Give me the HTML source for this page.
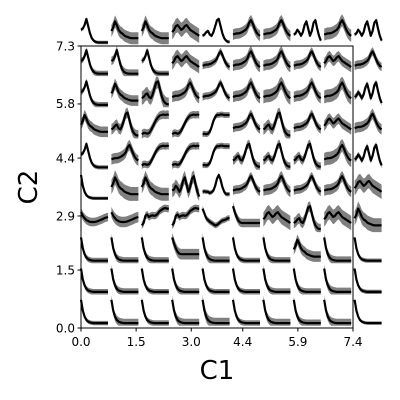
<!DOCTYPE html>
<html><head><meta charset="utf-8"><style>
html,body{margin:0;padding:0;background:#fff;}
svg{display:block;font-family:"DejaVu Sans","Liberation Sans",sans-serif;}
</style></head><body>
<svg id="chart" width="400" height="400" viewBox="0 0 400 400">
<g id="cells"></g>
<g id="axes"></g>
</svg>
<script>
// Axis tick labels
const xTickLabels = ["0.0","1.5","3.0","4.4","5.9","7.4"];
const yTickLabels = ["0.0","1.5","2.9","4.4","5.8","7.3"];
const xTickValues = [0.0,1.5,3.0,4.4,5.9,7.4];
const yTickValues = [0.0,1.5,2.9,4.4,5.8,7.3];
// Prototype curve shapes (normalized values, 16 samples)
const shapeA = [1.0,0.55,0.3,0.16,0.09,0.06,0.04,0.03,0.03,0.03,0.03,0.03,0.03,0.03,0.03,0.03];
const shapeB = [0.55,0.6,0.75,1.0,0.7,0.4,0.2,0.1,0.05,0.03,0.02,0.02,0.02,0.02,0.02,0.02];
const shapeC = [0.5,0.65,0.9,0.75,0.55,0.45,0.4,0.32,0.28,0.25,0.22,0.2,0.2,0.2,0.2,0.2];
const shapeD = [0.45,0.55,0.7,0.75,0.65,0.55,0.6,0.7,0.75,0.65,0.55,0.5,0.45,0.4,0.35,0.3];
const shapeE = [0.3,0.35,0.45,0.5,0.35,0.3,0.45,0.7,0.95,1.0,0.7,0.4,0.2,0.1,0.05,0.05];
const shapeF = [0.35,0.38,0.4,0.4,0.42,0.45,0.5,0.55,0.65,0.85,0.95,0.8,0.6,0.45,0.35,0.3];
const shapeM = [0.35,0.4,0.55,0.45,0.3,0.45,0.75,0.9,0.6,0.3,0.5,0.85,0.95,0.6,0.3,0.1];
const shapeG = [0.1,0.15,0.15,0.12,0.15,0.25,0.4,0.55,0.7,0.8,0.88,0.9,0.92,0.9,0.92,0.9];
const shapeS = [0.1,0.12,0.1,0.12,0.2,0.4,0.65,0.82,0.9,0.9,0.92,0.92,0.9,0.9,0.9,0.9];
const shapeP = [1.0,0.75,0.55,0.4,0.32,0.3,0.3,0.3,0.3,0.3,0.3,0.3,0.3,0.3,0.3,0.3];
const shapeU = [0.75,0.6,0.5,0.42,0.38,0.35,0.34,0.34,0.35,0.37,0.4,0.43,0.46,0.5,0.53,0.55];
const shapeL = [0.3,0.32,0.3,0.3,0.25,0.28,0.35,0.55,0.85,1.0,0.8,0.5,0.3,0.2,0.2,0.2];
const shapeR = [0.2,0.3,0.6,0.65,0.55,0.6,0.62,0.6,0.62,0.7,0.8,0.85,0.9,0.92,0.9,0.9];
const shapeV = [0.9,0.7,0.5,0.42,0.35,0.3,0.25,0.2,0.22,0.28,0.35,0.4,0.42,0.45,0.5,0.5];
const shapes = {A:shapeA,B:shapeB,C:shapeC,D:shapeD,E:shapeE,F:shapeF,M:shapeM,G:shapeG,S:shapeS,P:shapeP,U:shapeU,L:shapeL,R:shapeR,V:shapeV};
// Shape index per cell, top row first
const cellShapes = [
 ["B","C","C","D","E","F","F","M","F","M"],
 ["B","B","B","D","F","F","F","F","D","F"],
 ["B","C","E","F","F","F","F","F","F","M"],
 ["C","E","G","G","S","F","E","F","D","F"],
 ["B","F","G","G","S","E","E","E","F","M"],
 ["A","C","C","M","L","F","F","F","F","D"],
 ["U","U","R","R","V","P","D","E","D","C"],
 ["A","A","A","P","A","A","A","C","A","A"],
 ["A","A","A","A","A","A","A","A","A","A"],
 ["A","A","A","A","A","A","A","A","A","A"]
];
// Band half-width per cell (normalized)
const cellBands = [
 [0.07,0.25,0.25,0.3,0.07,0.22,0.22,0.07,0.25,0.07],
 [0.12,0.18,0.12,0.27,0.15,0.22,0.22,0.18,0.22,0.18],
 [0.12,0.22,0.28,0.22,0.15,0.22,0.27,0.22,0.27,0.12],
 [0.22,0.22,0.18,0.15,0.12,0.18,0.22,0.18,0.22,0.22],
 [0.09,0.22,0.15,0.15,0.12,0.18,0.18,0.18,0.27,0.12],
 [0.07,0.3,0.27,0.27,0.09,0.18,0.22,0.18,0.22,0.3],
 [0.18,0.22,0.15,0.15,0.12,0.18,0.3,0.22,0.3,0.3],
 [0.12,0.15,0.15,0.22,0.18,0.12,0.15,0.22,0.18,0.09],
 [0.12,0.15,0.12,0.15,0.12,0.12,0.15,0.15,0.18,0.09],
 [0.09,0.18,0.12,0.18,0.22,0.12,0.18,0.15,0.18,0.07]
];
const NS="http://www.w3.org/2000/svg";
const AX={x0:81,x1:353,y0:328,y1:46,xmax:7.4,ymax:7.3};
function sx(v){return AX.x0+(AX.x1-AX.x0)*v/AX.xmax;}
function sy(v){return AX.y0-(AX.y0-AX.y1)*v/AX.ymax;}
function mk(tag,attrs,parent){const e=document.createElementNS(NS,tag);for(const k in attrs)e.setAttribute(k,attrs[k]);parent.appendChild(e);return e;}
const cells=document.getElementById('cells');
const axes=document.getElementById('axes');
const CW=27,CH=24,PX=30.4,PY=31.2,CX0=81,CY0=19;
for(let r=0;r<10;r++){for(let c=0;c<10;c++){
  const data=shapes[cellShapes[r][c]];const b=cellBands[r][c];
  const x0=CX0+c*PX,y0=CY0+r*PY;
  const fx=i=>x0+CW*i/(data.length-1);
  const fy=v=>y0+CH*(1-v);
  const g=mk('g',{},cells);
  
  
  let up=[],dn=[],ln=[];
  data.forEach((v,i)=>{up.push(fx(i).toFixed(1)+','+fy(Math.min(1.2,v+b)).toFixed(1));dn.push(fx(i).toFixed(1)+','+fy(Math.max(-0.08,v-b)).toFixed(1));ln.push(fx(i).toFixed(1)+','+fy(v).toFixed(1));});
  const band=mk('polygon',{points:up.concat(dn.reverse()).join(' '),fill:'#808080',stroke:'none'},g);
  
  
  const line=mk('polyline',{points:ln.join(' '),fill:'none',stroke:'#000','stroke-width':2.2,'stroke-linejoin':'round'},g);
  
  
}}
const frame=mk('rect',{x:AX.x0,y:AX.y1,width:AX.x1-AX.x0,height:AX.y0-AX.y1,fill:'none',stroke:'#000','stroke-width':1},axes);


xTickValues.forEach((v,i)=>{
  const x=sx(v);
  const t=mk('line',{x1:x,x2:x,y1:AX.y0,y2:AX.y0+3.5,stroke:'#000'},axes);
  
  
  const l=mk('text',{x:x,y:AX.y0+18,'font-size':12,'text-anchor':'middle',fill:'#000'},axes);
  l.textContent=xTickLabels[i];
  
  
});
yTickValues.forEach((v,i)=>{
  const y=sy(v);
  const t=mk('line',{x1:AX.x0-3.5,x2:AX.x0,y1:y,y2:y,stroke:'#000'},axes);
  
  
  const l=mk('text',{x:AX.x0-6,y:y+4.3,'font-size':12,'text-anchor':'end',fill:'#000'},axes);
  l.textContent=yTickLabels[i];
  
  
});
const xt=mk('text',{x:217,y:379,'font-size':26,'text-anchor':'middle',fill:'#000'},axes);
xt.textContent='C1';


const yt=mk('text',{x:37,y:187,'font-size':26,'text-anchor':'middle',fill:'#000',transform:'rotate(-90 37 187)'},axes);
yt.textContent='C2';


</script>
</body></html>
